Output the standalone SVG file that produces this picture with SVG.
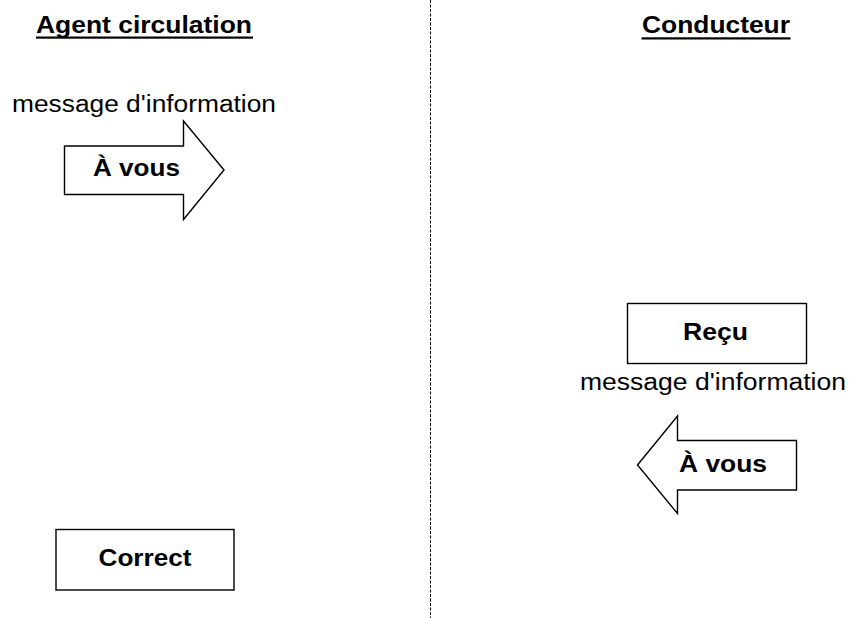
<svg xmlns="http://www.w3.org/2000/svg" width="851" height="618" viewBox="0 0 851 618">
<style>
text{font-family:"Liberation Sans",Arial,sans-serif;fill:#000}
.b{font-weight:bold;font-size:23px}
.n{font-size:23px}
.shape{fill:#fff;stroke:#000;stroke-width:1.4}
</style>
<rect width="851" height="618" fill="#fff"/>
<g id="connectors">
<line x1="430.5" y1="0" x2="430.5" y2="618" stroke="#000" stroke-width="1" stroke-dasharray="3,1.5"/>
</g>
<g id="title-agent">
<text class="b" x="36" y="33" textLength="216" lengthAdjust="spacingAndGlyphs">Agent circulation</text>
<rect x="36" y="36.5" width="217" height="2.2" fill="#000"/>
</g>
<g id="title-conducteur">
<text class="b" x="642" y="33" textLength="148" lengthAdjust="spacingAndGlyphs">Conducteur</text>
<rect x="641.5" y="37.3" width="149" height="2.2" fill="#000"/>
</g>
<g id="msg1">
<text class="n" x="12" y="112" textLength="264" lengthAdjust="spacingAndGlyphs">message d'information</text>
</g>
<g id="arrow-right">
<polygon class="shape" points="64.5,146 183.5,146 183.5,121 224,170 183.5,219.5 183.5,194.5 64.5,194.5"/>
<text class="b" x="93" y="176" textLength="87" lengthAdjust="spacingAndGlyphs">À vous</text>
</g>
<g id="recu">
<rect class="shape" x="627.5" y="303.5" width="179" height="60"/>
<text class="b" x="683" y="340" textLength="65" lengthAdjust="spacingAndGlyphs">Reçu</text>
</g>
<g id="msg2">
<text class="n" x="580" y="390" textLength="266" lengthAdjust="spacingAndGlyphs">message d'information</text>
</g>
<g id="arrow-left">
<polygon class="shape" points="637.5,465 677.5,416 677.5,440.5 796.5,440.5 796.5,490 677.5,490 677.5,513.5"/>
<text class="b" x="679" y="472" textLength="88" lengthAdjust="spacingAndGlyphs">À vous</text>
</g>
<g id="correct">
<rect class="shape" x="56" y="529.5" width="178" height="60.5"/>
<text class="b" x="98.5" y="565.5" textLength="93" lengthAdjust="spacingAndGlyphs">Correct</text>
</g>
</svg>
